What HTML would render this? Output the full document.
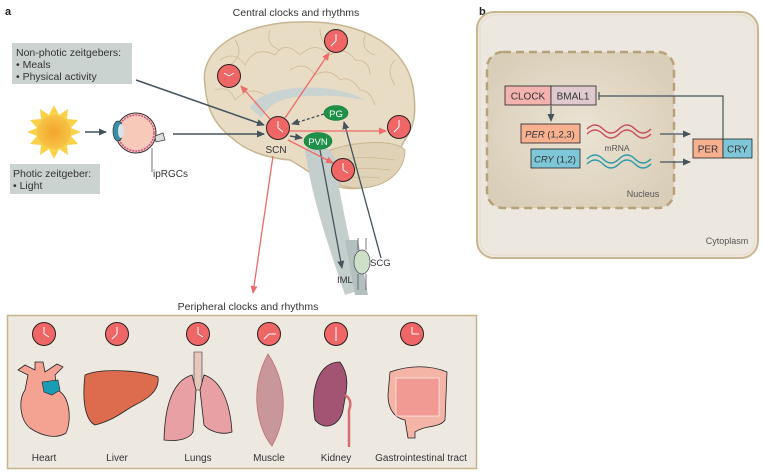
<!DOCTYPE html>
<html><head><meta charset="utf-8"><style>
html,body{margin:0;padding:0;background:#fff;}
svg{display:block;font-family:"Liberation Sans",sans-serif;}
</style></head><body>
<svg width="762" height="472" viewBox="0 0 762 472" xmlns="http://www.w3.org/2000/svg">
<defs>
<marker id="ag" markerWidth="8" markerHeight="8" refX="7" refY="4" orient="auto" markerUnits="userSpaceOnUse"><path d="M0,0.5 L8,4 L0,7.5z" fill="#44535c"/></marker>
<marker id="ar" markerWidth="8" markerHeight="8" refX="7" refY="4" orient="auto" markerUnits="userSpaceOnUse"><path d="M0,0.5 L8,4 L0,7.5z" fill="#ef6a6a"/></marker>
<radialGradient id="nuc" cx="50%" cy="50%" r="60%"><stop offset="0" stop-color="#ebe3d4"/><stop offset="1" stop-color="#d9ceb8"/></radialGradient>
<radialGradient id="sun"><stop offset="0" stop-color="#f2a52a"/><stop offset="1" stop-color="#f7c447"/></radialGradient>
<g id="clk"><circle r="11.5" fill="#ef6667" stroke="#2a1f1f" stroke-width="1"/></g>
</defs>

<text x="5" y="15" font-size="11" font-weight="bold" fill="#222">a</text>
<text x="479" y="15" font-size="11" font-weight="bold" fill="#222">b</text>
<text x="296" y="16" font-size="10.5" fill="#333" text-anchor="middle">Central clocks and rhythms</text>

<!-- brain -->
<path d="M205,85 C198,45 250,22 300,22 C360,20 410,45 414,95 C418,130 405,135 400,150 C395,185 355,195 335,185 C318,180 300,165 290,160 C265,158 245,150 232,138 C215,125 207,110 205,85z" fill="#e8dcc4" stroke="#c8b591" stroke-width="1.5"/>
<path d="M330,150 C360,140 395,140 405,150 C405,180 370,195 340,185z" fill="#dfd2b6" stroke="#c8b591" stroke-width="1"/>
<g stroke="#cdb994" stroke-width="0.8" fill="none">
<path d="M220,60 q15,-10 25,5 q10,-20 30,-10 q10,-15 25,0 q15,-15 30,0 q15,-10 25,5 q15,0 15,15"/>
<path d="M215,90 q15,-5 20,10 q15,-15 30,-5 M290,70 q15,-10 25,5 q15,-8 25,5 q10,-5 20,10 q10,0 15,15"/>
<path d="M235,40 q10,15 -5,25 M270,30 q-5,15 10,20 M320,28 q0,15 10,20 M365,35 q-5,15 10,20 M395,60 q-10,10 0,25"/>
<path d="M340,160 q20,-5 55,0 M345,170 q20,-3 45,0 M350,178 q15,-2 30,0"/>
</g>
<path d="M250,108 C260,85 330,80 365,100 C350,98 340,95 320,96 C290,95 270,100 262,118z" fill="#c9d3d1"/>
<path d="M305,150 C315,140 330,145 335,160 C340,200 350,240 360,290 L345,295 C330,250 312,200 305,150z" fill="#c4cfcd"/>
<path d="M345,240 L355,295 L368,295 L358,240z" fill="#b3c0bf"/>

<!-- zeitgeber boxes -->
<rect x="12" y="43" width="120" height="41" fill="#cbd3d1"/>
<text x="16" y="56" font-size="10.5" fill="#333">Non-photic zeitgebers:</text>
<text x="16" y="68" font-size="10.5" fill="#333">• Meals</text>
<text x="16" y="80" font-size="10.5" fill="#333">• Physical activity</text>
<rect x="10" y="164" width="90" height="30" fill="#cbd3d1"/>
<text x="13" y="177" font-size="10.5" fill="#333">Photic zeitgeber:</text>
<text x="13" y="189" font-size="10.5" fill="#333">• Light</text>

<!-- sun -->
<g transform="translate(54,132)">
<polygon fill="#f8d34a" points="0,-27 5,-17 14,-23 13,-13 24,-12 17,-4 27,0 17,4 24,12 13,13 14,23 5,17 0,27 -5,17 -14,23 -13,13 -24,12 -17,4 -27,0 -17,-4 -24,-12 -13,-13 -14,-23 -5,-17"/>
<circle r="17" fill="url(#sun)"/>
</g>
<line x1="85" y1="132" x2="106" y2="132" stroke="#44535c" stroke-width="1.5" marker-end="url(#ag)"/>

<!-- eye -->
<circle cx="136" cy="133" r="20" fill="#f6c9b8" stroke="#333" stroke-width="1"/>
<circle cx="136" cy="133" r="18" fill="none" stroke="#d0508a" stroke-width="1.5" stroke-dasharray="2 1"/>
<ellipse cx="118" cy="131" rx="5" ry="10" fill="#3a8fa8" stroke="#333" stroke-width="0.7"/>
<ellipse cx="121" cy="131" rx="3" ry="7" fill="#d7e3e6"/>
<path d="M155,136 l8,-3 l2,7 l-9,2z" fill="#ddd" stroke="#333" stroke-width="0.7"/>
<line x1="152" y1="148" x2="152" y2="172" stroke="#333" stroke-width="0.7"/>
<text x="153" y="177" font-size="10" fill="#333">ipRGCs</text>
<line x1="173" y1="134" x2="264" y2="134" stroke="#44535c" stroke-width="1.5" marker-end="url(#ag)"/>
<line x1="136" y1="80" x2="264" y2="125" stroke="#44535c" stroke-width="1.5" marker-end="url(#ag)"/>

<!-- nodes -->
<ellipse cx="336" cy="113" rx="12" ry="7.5" fill="#1f9048" stroke="#173" stroke-width="0.6"/>
<text x="336" y="117" font-size="9.5" fill="#fff" text-anchor="middle">PG</text>
<ellipse cx="318" cy="141" rx="14" ry="8.5" fill="#1f9048" stroke="#173" stroke-width="0.6"/>
<text x="318" y="145" font-size="9.5" fill="#fff" text-anchor="middle">PVN</text>

<!-- ganglion -->
<ellipse cx="362" cy="262" rx="8" ry="12" fill="#cfe0c8" stroke="#445" stroke-width="0.7"/>
<path d="M358,238 L358,250 M366,238 L366,250 M358,274 L358,290 M366,274 L366,290" stroke="#445" stroke-width="0.7"/>
<text x="337" y="283" font-size="9.5" fill="#333">IML</text>
<text x="370" y="266" font-size="9.5" fill="#333">SCG</text>

<!-- gray lines -->
<line x1="320" y1="150" x2="342" y2="268" stroke="#44535c" stroke-width="1.3" marker-end="url(#ag)"/>
<line x1="381" y1="258" x2="344" y2="122" stroke="#44535c" stroke-width="1.3" marker-end="url(#ag)"/>
<line x1="324" y1="114" x2="292" y2="124" stroke="#44535c" stroke-width="1.3" stroke-dasharray="3 2" marker-end="url(#ag)"/>
<line x1="290" y1="136" x2="302" y2="138" stroke="#44535c" stroke-width="1.5" marker-end="url(#ag)"/>

<!-- red arrows -->
<g stroke="#ef6a6a" stroke-width="1.3" marker-end="url(#ar)">
<line x1="270" y1="119" x2="241" y2="86"/>
<line x1="285" y1="118" x2="329" y2="53"/>
<line x1="290" y1="131" x2="386" y2="131"/>
<line x1="288" y1="140" x2="333" y2="163"/>
<line x1="273" y1="156" x2="253" y2="293"/>
</g>

<!-- central clocks -->
<g stroke="#fff" stroke-width="1" fill="none">
<use href="#clk" x="278" y="128"/><path d="M278,128 v-7 M278,128 l5,4"/>
<use href="#clk" x="229" y="76"/><path d="M229,76 l-5,-3 M229,76 l5,-3"/>
<use href="#clk" x="336" y="41"/><path d="M336,41 v-7 M336,41 l-5,5"/>
<use href="#clk" x="399" y="127"/><path d="M399,127 v-7 M399,127 l-5,5"/>
<use href="#clk" x="343" y="170"/><path d="M343,170 v-7 M343,170 l5,3"/>
</g>
<text x="276" y="153" font-size="10" fill="#333" text-anchor="middle">SCN</text>

<!-- peripheral -->
<text x="248" y="310" font-size="10.5" fill="#333" text-anchor="middle">Peripheral clocks and rhythms</text>
<rect x="7.5" y="315.5" width="469" height="153" fill="#ede8e0" stroke="#c8b48a" stroke-width="1.5"/>
<g stroke="#fff" stroke-width="1" fill="none">
<use href="#clk" x="44" y="334"/><path d="M44,334 v-7 M44,334 l5,3"/>
<use href="#clk" x="117" y="334"/><path d="M117,334 v-7 M117,334 l-5,5"/>
<use href="#clk" x="198" y="334"/><path d="M198,334 v-7 M198,334 l5,3"/>
<use href="#clk" x="269" y="334"/><path d="M269,334 l-5,5 M269,334 l7,0"/>
<use href="#clk" x="336" y="334"/><path d="M336,334 v-7 M336,334 v7"/>
<use href="#clk" x="412" y="334"/><path d="M412,334 v-7 M412,334 h7"/>
</g>
<!-- heart -->
<path d="M25,365 l10,5 l0,-8 l8,0 l2,10 l12,-8 l6,3 l-8,8 l2,15 C70,395 72,420 66,433 C55,440 40,435 30,428 C20,420 18,400 25,390 L28,375 L18,370z" fill="#f4a393" stroke="#222" stroke-width="0.8"/>
<path d="M42,382 l16,-2 l2,10 l-8,5 l-8,-3z" fill="#1b9cb5" stroke="#222" stroke-width="0.6"/>
<!-- liver -->
<path d="M85,375 C100,368 140,370 158,377 C160,392 145,400 135,405 C125,410 115,420 95,425 C85,420 82,400 85,375z" fill="#dd6b4e" stroke="#222" stroke-width="0.8"/>
<!-- lungs -->
<path d="M194,352 h8 v38 h-8z" fill="#e8c8bd" stroke="#333" stroke-width="0.6"/>
<path d="M192,375 C175,380 165,400 164,440 C180,442 190,438 193,432 L196,390z" fill="#e8a0a4" stroke="#222" stroke-width="0.8"/>
<path d="M204,375 C220,380 230,400 232,432 C220,436 208,430 204,425 L200,390z" fill="#e8a0a4" stroke="#222" stroke-width="0.8"/>
<!-- muscle -->
<path d="M268,354 C282,375 292,410 272,446 C258,430 248,390 268,354z" fill="#c8979b" stroke="#c96e6e" stroke-width="0.8"/>
<!-- kidney -->
<path d="M340,362 C318,362 310,390 315,420 C325,432 340,425 343,410 C345,395 352,378 340,362z" fill="#a45473" stroke="#222" stroke-width="0.8"/>
<path d="M345,395 q8,5 4,15 l0,37" stroke="#d76d6d" stroke-width="2.5" fill="none"/>
<!-- GI -->
<path d="M390,372 C410,365 430,365 447,372 L445,420 C440,428 425,425 415,432 L415,438 L408,438 L405,420 C395,418 388,410 388,395z" fill="#f4b4a6" stroke="#222" stroke-width="0.8"/>
<rect x="396" y="378" width="43" height="38" fill="#f09a93" stroke="#fff" stroke-width="0.6"/>
<g font-size="10" fill="#333" text-anchor="middle">
<text x="44" y="461">Heart</text><text x="117" y="461">Liver</text><text x="198" y="461">Lungs</text>
<text x="269" y="461">Muscle</text><text x="336" y="461">Kidney</text><text x="421" y="461">Gastrointestinal tract</text>
</g>

<!-- panel b -->
<rect x="477" y="12" width="281" height="246" rx="17" fill="#ede8df" stroke="#c9b690" stroke-width="2"/>
<rect x="480" y="15" width="275" height="240" rx="15" fill="none" stroke="#e5dcc8" stroke-width="1"/>
<rect x="487" y="52" width="187" height="156" rx="16" fill="url(#nuc)" stroke="#b5a27a" stroke-width="2.5" stroke-dasharray="8 5"/>
<rect x="505" y="86" width="46" height="19" fill="#f4b3ae" stroke="#222" stroke-width="0.8"/>
<rect x="551" y="86" width="45" height="19" fill="#e0cad0" stroke="#222" stroke-width="0.8"/>
<text x="528" y="99.5" font-size="10" fill="#333" text-anchor="middle">CLOCK</text>
<text x="573" y="99.5" font-size="10" fill="#333" text-anchor="middle">BMAL1</text>
<line x1="551" y1="106" x2="551" y2="121" stroke="#44535c" stroke-width="1.2" marker-end="url(#ag)"/>
<rect x="521" y="124" width="59" height="19" fill="#f7b090" stroke="#222" stroke-width="0.8"/>
<text x="550" y="137.5" font-size="9.5" fill="#333" text-anchor="middle"><tspan font-style="italic">PER</tspan> (1,2,3)</text>
<rect x="531" y="149" width="49" height="19" fill="#7ec7d8" stroke="#222" stroke-width="0.8"/>
<text x="555" y="162.5" font-size="9.5" fill="#333" text-anchor="middle"><tspan font-style="italic">CRY</tspan> (1,2)</text>
<path d="M587,131 q8,-8 16,0 t16,0 t16,0 t16,0 M587,136 q8,-8 16,0 t16,0 t16,0 t16,0" transform="translate(0,-2)" stroke="#c9505a" stroke-width="1.5" fill="none"/>
<path d="M587,161 q8,-8 16,0 t16,0 t16,0 t16,0 M587,166 q8,-8 16,0 t16,0 t16,0 t16,0" transform="translate(0,-2)" stroke="#2d9aa8" stroke-width="1.5" fill="none"/>
<text x="617" y="151" font-size="8.5" fill="#555" text-anchor="middle">mRNA</text>
<line x1="660" y1="134" x2="690" y2="134" stroke="#44535c" stroke-width="1.2" marker-end="url(#ag)"/>
<line x1="660" y1="162" x2="690" y2="162" stroke="#44535c" stroke-width="1.2" marker-end="url(#ag)"/>
<rect x="693" y="139" width="30" height="19" fill="#f7b090" stroke="#222" stroke-width="0.8"/>
<rect x="723" y="139" width="29" height="19" fill="#7ec7d8" stroke="#222" stroke-width="0.8"/>
<text x="708" y="152.5" font-size="10" fill="#333" text-anchor="middle">PER</text>
<text x="737.5" y="152.5" font-size="10" fill="#333" text-anchor="middle">CRY</text>
<path d="M723,139 V96 H599 M599,92 V100" stroke="#44535c" stroke-width="1.2" fill="none"/>
<text x="643" y="197" font-size="9" fill="#555" text-anchor="middle">Nucleus</text>
<text x="727" y="244" font-size="9" fill="#555" text-anchor="middle">Cytoplasm</text>
</svg>
</body></html>
